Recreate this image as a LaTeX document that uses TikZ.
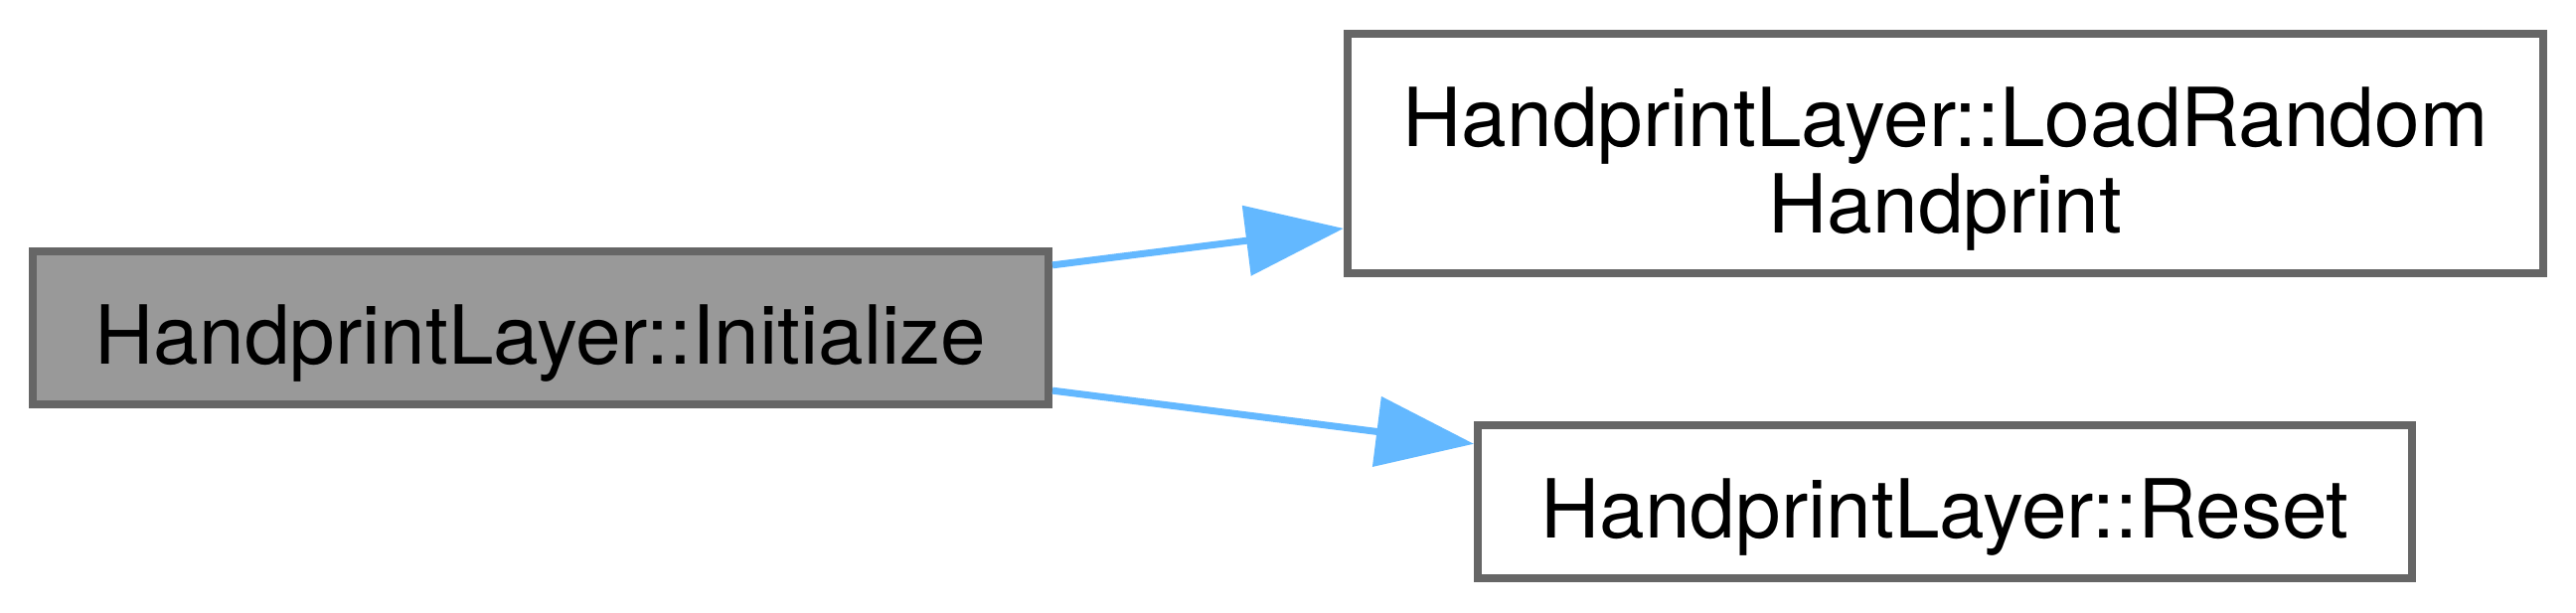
\documentclass[tikz,border=0pt]{standalone}
\usepackage{fontspec}
\setmainfont{TeX Gyre Heros}
\usepackage{tikz}
\usepackage{xcolor}
\usetikzlibrary{arrows.meta,positioning}
\definecolor{edge}{HTML}{666666}
\definecolor{caller}{HTML}{999999}
\definecolor{callee}{HTML}{FFFFFF}
\definecolor{link}{HTML}{63B8FF}
\tikzset{
  fnbox/.style={draw=edge, fill=callee, line width=1pt, align=center,
                inner sep=0pt, font=\fontsize{10pt}{10.6pt}\selectfont,
                text height=8.8pt, text depth=0pt, minimum height=18.8pt},
  callarrow/.style={-{Triangle[length=12pt,width=8.5pt]}, line width=0.85pt, draw=link}
}
\begin{document}
\begin{tikzpicture}[x=0.12195pt,y=-0.12195pt]
  \useasboundingbox (0,0) rectangle (2592,617);
  \node[fnbox,fill=caller,minimum width=124.6pt] (init) at (544,330) {HandprintLayer::Initialize};
  \node[fnbox,minimum width=146.7pt,minimum height=29.4pt,text height=19.4pt] (loadrand) at (1957.5,154.5)
    {HandprintLayer::LoadRandom\\Handprint};
  \node[fnbox,minimum width=114.6pt] (reset) at (1957,505) {HandprintLayer::Reset};
  \draw[callarrow] ([yshift=7.7pt]init.east) -- ([yshift=-9.2pt]loadrand.west);
  \draw[callarrow] ([yshift=-7.7pt]init.east) -- ([yshift=7.1pt]reset.west);
\end{tikzpicture}
\end{document}
